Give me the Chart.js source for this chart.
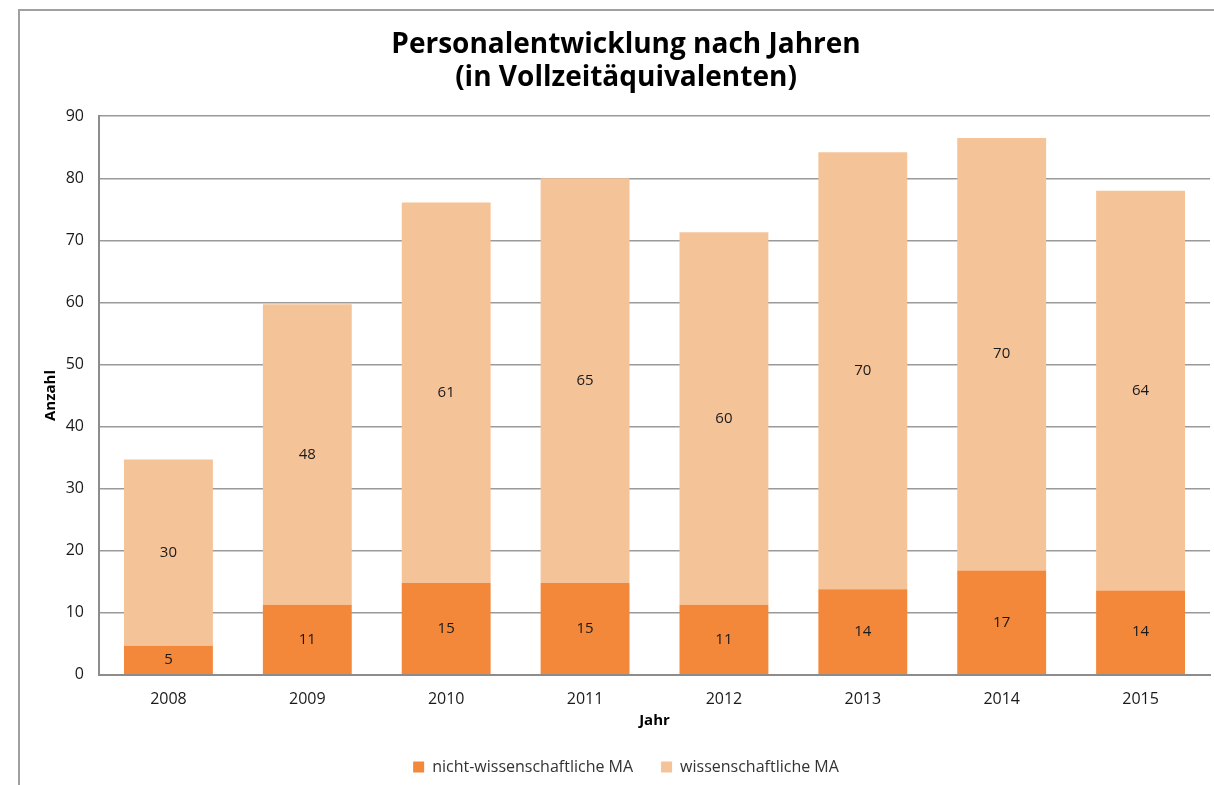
<!DOCTYPE html>
<html>
<head>
<meta charset="utf-8">
<script src="https://cdn.jsdelivr.net/npm/chart.js@4"></script>
<style>
  html, body { margin: 0; padding: 0; background: #fff; }
  #wrap { position: relative; width: 1214px; height: 785px; }
  #grafico { display: block; }
  #frame { position: absolute; left: 18px; top: 9px; right: 0; bottom: 0;
           border-left: 2px solid #a0a0a0; border-top: 2px solid #a0a0a0; pointer-events: none; }
</style>
</head>
<body>
<div id="wrap">
  <canvas id="grafico" width="1214" height="785"></canvas>
  <div id="frame"></div>
</div>
<script>
// data
const jahre = ['2008', '2009', '2010', '2011', '2012', '2013', '2014', '2015'];
const nichtWiss = [4.7, 11.3, 14.8, 14.8, 11.3, 13.8, 16.8, 13.6];
const wiss = [30.0, 48.4, 61.3, 65.2, 60.0, 70.4, 69.7, 64.4];
const yTicks = [0, 10, 20, 30, 40, 50, 60, 70, 80, 90];

const fontFam = "'Open Sans', 'Noto Sans', sans-serif";

// draws the rounded value in the middle of each segment
const werteLabels = {
  id: 'werteLabels',
  afterDatasetsDraw(chart) {
    const ctx = chart.ctx;
    ctx.save();
    ctx.font = '15px ' + fontFam;
    ctx.fillStyle = '#1a1a1a';
    ctx.textAlign = 'center';
    ctx.textBaseline = 'middle';
    chart.data.datasets.forEach((ds, i) => {
      chart.getDatasetMeta(i).data.forEach((bar, j) => {
        const y = (bar.y + bar.base) / 2;
        ctx.fillText(Math.round(ds.data[j]), bar.x, y);
      });
    });
    ctx.restore();
  }
};

const grafico = new Chart(document.getElementById('grafico'), {
  type: 'bar',
  data: {
    labels: jahre,
    datasets: [{
      label: 'nicht-wissenschaftliche MA',
      data: nichtWiss,
      backgroundColor: '#f3873a',
      borderWidth: 0
    }, {
      label: 'wissenschaftliche MA',
      data: wiss,
      backgroundColor: '#f5c398',
      borderWidth: 0
    }]
  },
  options: {
    responsive: false,
    animation: false,
    devicePixelRatio: 1,
    layout: { padding: { left: 42, right: 4, top: 0, bottom: 0 } },
    datasets: { bar: { categoryPercentage: 1, barPercentage: 0.64 } },
    plugins: {
      title: {
        display: true,
        text: ['Personalentwicklung nach Jahren', '(in Vollzeitäquivalenten)'],
        color: '#000',
        font: { family: fontFam, size: 28, weight: 'bold', lineHeight: 1.2 },
        padding: { top: 28, bottom: 21 }
      },
      legend: {
        position: 'bottom',
        labels: {
          color: '#333',
          font: { family: fontFam, size: 16 },
          boxWidth: 11,
          boxHeight: 11,
          padding: 28
        }
      },
      tooltip: { enabled: false }
    },
    scales: {
      x: {
        stacked: true,
        grid: { display: false },
        border: { color: '#8c8c8c', width: 2 },
        ticks: { color: '#1a1a1a', font: { family: fontFam, size: 16 }, padding: 7 },
        title: {
          display: true, text: 'Jahr', color: '#000',
          font: { family: fontFam, size: 15, weight: 'bold', lineHeight: 0.6 },
          padding: { top: 0, bottom: 6 }
        }
      },
      y: {
        stacked: true,
        min: 0,
        max: 90,
        afterBuildTicks(axis) { axis.ticks = yTicks.map(v => ({ value: v })); },
        afterFit(axis) { axis.width = 57; },
        grid: { color: '#9a9a9a', lineWidth: 1.5, drawTicks: false },
        border: { color: '#8c8c8c', width: 2 },
        ticks: { color: '#1a1a1a', font: { family: fontFam, size: 16 }, padding: 15 },
        title: {
          display: true, text: 'Anzahl', color: '#000',
          font: { family: fontFam, size: 15, weight: 'bold' },
          padding: { top: 0, bottom: 0 }
        }
      }
    }
  },
  plugins: [werteLabels]
});
</script>
</body>
</html>
